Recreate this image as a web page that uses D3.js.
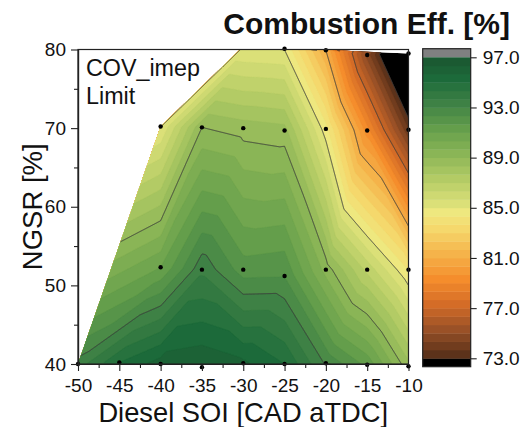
<!DOCTYPE html>
<html>
<head>
<meta charset="utf-8">
<script src="https://cdn.jsdelivr.net/npm/d3@7"></script>
<style>
body{margin:0;background:#fff}
svg{display:block;font-family:"Liberation Sans",Arial,sans-serif}
</style>
</head>
<body>
<div id="content"></div>
<script>
//measured points (Diesel SOI, NGSR, combustion efficiency)
var soi  = [-50,-45,-40,-35,-30,-25,-20,-15,-10,
            -40,-35,-30,-25,-20,-15,-10,
            -40,-35,-30,-25,-20,-15,-10,
            -30,-25,-20,-15,-10];
var ngsr = [40,40.2,40,39.6,40.1,40,40.1,39.9,39.7,
            52.3,52,52,51.2,52,52,52,
            70.2,70.1,70,69.7,69.9,69.7,69.8,
            80.4,80.1,79.9,79.3,79.5];
var eff  = [93.3,95.0,96.0,96.3,95.8,95.0,92.9,91.5,88.6,
            91.0,93.5,92.0,92.3,89.4,86.8,84.3,
            84.95,89.0,88.7,88.6,84.6,79.3,73.7,
            84.95,84.95,81.0,74.7,69.0];

var xTicks = [-50,-45,-40,-35,-30,-25,-20,-15,-10];
var yTicks = [40,50,60,70,80];
var cbTicks = [97,93,89,85,81,77,73];
var lineLevels = [73,77,81,85,89,93];

//colour anchors for the level fills
var anchorVals = [73.33,75.33,77.33,79.33,81.33,83.33,84.67,85.33,87.33,89.33,91.33,93.33,95.33,96.67];
var anchorCols = ['#5c321a','#9a5127','#d46c27','#f58d2c','#f5b34a','#f5d86c','#eee87f',
                  '#dbe078','#b3cb65','#8ab556','#649e4b','#3e8145','#1c6a3a','#1b5a32'];

var W = 527, H = 427;
var svg = d3.select("#content").append("svg").attr("width", W).attr("height", H);

var x = d3.scaleLinear().domain([-50,-10]).range([78,408.5]);
var y = d3.scaleLinear().domain([40,80]).range([364,49.5]);

var lvStep = 2/3, lvMin = 73, nLv = 36;
var thresholds = d3.range(nLv + 1).map(function(k){ return lvMin + k*lvStep; });
var colScale = d3.scaleLinear().domain(anchorVals).range(anchorCols).interpolate(d3.interpolateRgb).clamp(true);
function bandColor(k){
    if(k >= nLv) return '#808080';
    return colScale(lvMin + (k + 0.5)*lvStep);
}

//triangulate in pixel space
var pts = soi.map(function(d,i){ return [x(d), y(ngsr[i])]; });
var del = d3.Delaunay.from(pts);
var tris = [];
for(var t = 0; t < del.triangles.length; t += 3){
    var a = del.triangles[t], b = del.triangles[t+1], c = del.triangles[t+2];
    var A = pts[a], B = pts[b], C = pts[c];
    var det = (B[1]-C[1])*(A[0]-C[0]) + (C[0]-B[0])*(A[1]-C[1]);
    tris.push({A:A,B:B,C:C,va:eff[a],vb:eff[b],vc:eff[c],det:det});
}

//linear interpolation on a fine grid
var step = 1;
var gx0 = 60, gy0 = 32;
var nx = Math.ceil((428 - gx0)/step), ny = Math.ceil((384 - gy0)/step);
var values = new Float64Array(nx*ny);
for(var j = 0; j < ny; j++){
    var py = gy0 + (j + 0.5)*step;
    for(var i = 0; i < nx; i++){
        var px = gx0 + (i + 0.5)*step;
        var best = -Infinity, val = 0;
        for(var k = 0; k < tris.length; k++){
            var T = tris[k];
            var l1 = ((T.B[1]-T.C[1])*(px-T.C[0]) + (T.C[0]-T.B[0])*(py-T.C[1]))/T.det;
            var l2 = ((T.C[1]-T.A[1])*(px-T.C[0]) + (T.A[0]-T.C[0])*(py-T.C[1]))/T.det;
            var l3 = 1 - l1 - l2;
            var m = Math.min(l1,l2,l3);
            if(m > best){
                best = m;
                val = l1*T.va + l2*T.vb + l3*T.vc;
                if(m >= 0) break;
            }
        }
        values[j*nx + i] = val;
    }
}

var gpath = d3.geoPath(d3.geoIdentity().scale(step).translate([gx0, gy0]));

//clip: data hull inside plot box
var defs = svg.append("defs");
defs.append("clipPath").attr("id","plotClip").append("rect")
    .attr("x", x(-50)).attr("y", y(80)).attr("width", x(-10)-x(-50)).attr("height", y(40)-y(80));
defs.append("clipPath").attr("id","hullClip").append("path")
    .attr("d", "M" + del.hullPolygon().join("L") + "Z");

var plot = svg.append("g").attr("clip-path","url(#plotClip)")
    .append("g").attr("clip-path","url(#hullClip)");

plot.append("path").attr("d", "M" + del.hullPolygon().join("L") + "Z").attr("fill","#000");

var fills = d3.contours().size([nx, ny]).thresholds(thresholds)(values);
plot.selectAll("path.lv").data(fills).enter().append("path")
    .attr("class","lv")
    .attr("d", gpath)
    .attr("fill", function(d,i){ return bandColor(i); })
    .attr("stroke", function(d,i){ return bandColor(i); })
    .attr("stroke-width", 0.3);

var lines = d3.contours().size([nx, ny]).thresholds(lineLevels)(values);
plot.selectAll("path.cl").data(lines).enter().append("path")
    .attr("class","cl")
    .attr("d", gpath)
    .attr("fill","none")
    .attr("stroke","#3c3c3c")
    .attr("stroke-width",0.9);

//data points
svg.append("g").selectAll("circle").data(soi.map(function(d,i){ return i; })
        .filter(function(i){ return ngsr[i] <= 80.2; }))
    .enter().append("circle")
    .attr("cx", function(i){ return x(soi[i]); })
    .attr("cy", function(i){ return y(ngsr[i]); })
    .attr("r", 2.2)
    .attr("fill","#000");

//frame
svg.append("rect")
    .attr("x", x(-50)).attr("y", y(80)).attr("width", x(-10)-x(-50)).attr("height", y(40)-y(80))
    .attr("fill","none").attr("stroke","#222").attr("stroke-width",1.2);

//axes
var fmt = function(d){ return String(d); };
svg.append("g").attr("transform","translate(0," + y(40) + ")")
    .call(d3.axisBottom(x).tickValues(xTicks).tickFormat(fmt).tickSize(7).tickPadding(8).tickSizeOuter(0));
svg.append("g").attr("transform","translate(0," + y(40) + ")")
    .call(d3.axisBottom(x).tickValues(d3.range(-47.5,-10,5)).tickFormat("").tickSize(4).tickSizeOuter(0));
svg.append("g").attr("transform","translate(" + x(-50) + ",0)")
    .call(d3.axisLeft(y).tickValues(yTicks).tickFormat(fmt).tickSize(7).tickPadding(5).tickSizeOuter(0));
svg.append("g").attr("transform","translate(" + x(-50) + ",0)")
    .call(d3.axisLeft(y).tickValues([45,55,65,75]).tickFormat("").tickSize(4).tickSizeOuter(0));
svg.selectAll(".domain").attr("stroke","#222").attr("stroke-width",1.2);
svg.selectAll(".tick line").attr("stroke","#222").attr("stroke-width",1.1);
svg.selectAll(".tick text").attr("font-size",19).attr("font-family","Liberation Sans, Arial, sans-serif").attr("fill","#111");

svg.append("text").attr("x", (x(-50)+x(-10))/2).attr("y", 421.5)
    .attr("text-anchor","middle").attr("font-size",27.3).attr("fill","#111")
    .text("Diesel SOI [CAD aTDC]");
svg.append("text").attr("transform","translate(41.5," + (y(60)) + ") rotate(-90)")
    .attr("text-anchor","middle").attr("font-size",27.5).attr("fill","#111")
    .text("NGSR [%]");
svg.append("text").attr("x", 510).attr("y", 33.5)
    .attr("text-anchor","end").attr("font-size",30).attr("font-weight","bold").attr("fill","#111")
    .text("Combustion Eff. [%]");
svg.append("text").attr("x", 86).attr("y", 75.5).attr("font-size",23.3).attr("fill","#111").text("COV_imep");
svg.append("text").attr("x", 86).attr("y", 103.5).attr("font-size",23.3).attr("fill","#111").text("Limit");

//colour bar
var cbY = d3.scaleLinear().domain([73,97]).range([358.3,57.3]);
var cbX0 = 422.7, cbW = 48;
var cb = svg.append("g");
cb.append("rect").attr("x",cbX0).attr("y",cbY(97)-8.6).attr("width",cbW).attr("height",8.6).attr("fill","#808080");
cb.append("rect").attr("x",cbX0).attr("y",cbY(73)).attr("width",cbW).attr("height",8.4).attr("fill","#000");
cb.selectAll("rect.band").data(d3.range(nLv)).enter().append("rect")
    .attr("class","band")
    .attr("x",cbX0)
    .attr("y",function(k){ return cbY(lvMin + (k+1)*lvStep); })
    .attr("width",cbW)
    .attr("height",function(k){ return cbY(lvMin + k*lvStep) - cbY(lvMin + (k+1)*lvStep) + 0.4; })
    .attr("fill",function(k){ return bandColor(k); });
cb.append("rect").attr("x",cbX0).attr("y",cbY(97)-8.6).attr("width",cbW).attr("height",cbY(73)+8.4-(cbY(97)-8.6))
    .attr("fill","none").attr("stroke","#222").attr("stroke-width",1.2);
var cbAx = svg.append("g").attr("transform","translate(" + (cbX0+cbW) + ",0)")
    .call(d3.axisRight(cbY).tickValues(cbTicks).tickFormat(d3.format(".1f")).tickSize(6).tickPadding(6).tickSizeOuter(0));
cbAx.select(".domain").remove();
cbAx.selectAll(".tick line").attr("stroke","#222").attr("stroke-width",1.1);
cbAx.selectAll(".tick text").attr("font-size",19).attr("font-family","Liberation Sans, Arial, sans-serif").attr("fill","#111");
</script>
</body>
</html>
